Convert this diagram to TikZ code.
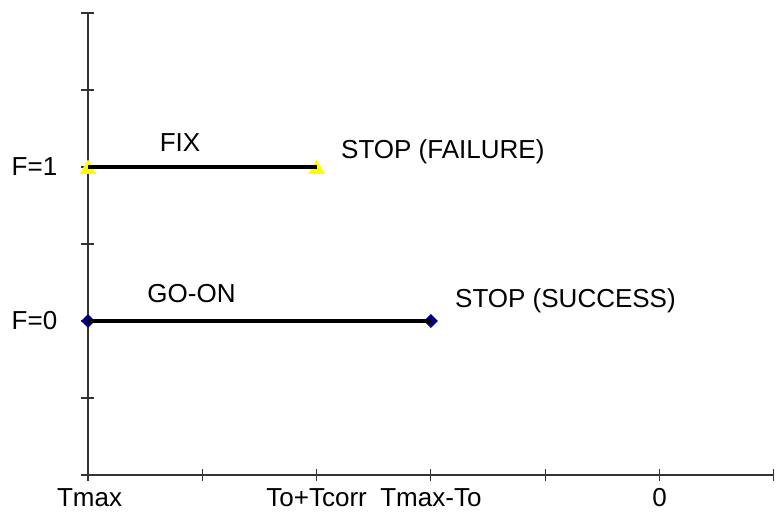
\documentclass[tikz,border=0pt]{standalone}
\usepackage{fontspec}
\setmainfont{Liberation Sans}
\usetikzlibrary{shapes.geometric}
\definecolor{navymk}{RGB}{0,0,128}
\definecolor{yellowmk}{RGB}{255,255,0}
\begin{document}
\begin{tikzpicture}[x=1pt,y=-1pt,
  lbl/.style={inner sep=0pt,font=\fontsize{26}{31}\selectfont},
  axisline/.style={line width=1.1pt,black!80},
  series/.style={line width=4pt,black},
  trimk/.style={regular polygon,regular polygon sides=3,fill=yellowmk,draw=none,inner sep=0pt,minimum size=19pt},
  diamk/.style={diamond,fill=navymk,draw=none,inner sep=0pt,minimum width=14pt,minimum height=14pt}]
\useasboundingbox (0,0) rectangle (779,517);
% axes
\coordinate (o) at (88,475);
\coordinate (ytop) at (88,13);
\coordinate (ybot) at (88,481);
\coordinate (xl) at (81,475);
\coordinate (xr) at (773.8,475);
\draw[axisline] (ybot) -- (ytop);
\draw[axisline] (xl) -- (xr);
\foreach \yy in {13,90,167,244,321,398}
  \draw[axisline] (81,\yy) -- (94,\yy);
\foreach \xx in {202.3,316.6,430.9,545.2,659.5,773.8}
  \draw[axisline] (\xx,469) -- (\xx,481);
% markers
\node[trimk] (f1a) at (88,169) {};
\node[trimk] (f1b) at (316.6,169) {};
\node[diamk] (f0a) at (88,321) {};
\node[diamk] (f0b) at (430.9,321) {};
\coordinate (f1aL) at (88,167);
\coordinate (f1bL) at (316.6,167);
\draw[series] (f1aL) -- (f1bL);
\draw[series] (f0a.center) -- (f0b.center);
% labels
\node[lbl,anchor=base] (fix) at (180,151) {FIX};
\node[lbl,anchor=base west] (stopf) at (341,158) {STOP (FAILURE)};
\node[lbl,anchor=base] (goon) at (191.5,302) {GO-ON};
\node[lbl,anchor=base west] (stops) at (455,307) {STOP (SUCCESS)};
\node[lbl,anchor=base west] (f1) at (11.5,175) {F=1};
\node[lbl,anchor=base west] (f0) at (11.5,329) {F=0};
\node[lbl,anchor=base] (tmax) at (89.5,506) {Tmax};
\node[lbl,anchor=base] (totc) at (316.6,506) {To+Tcorr};
\node[lbl,anchor=base] (tmto) at (430.9,506) {Tmax-To};
\node[lbl,anchor=base] (zero) at (659.5,506) {0};
\end{tikzpicture}
\end{document}
